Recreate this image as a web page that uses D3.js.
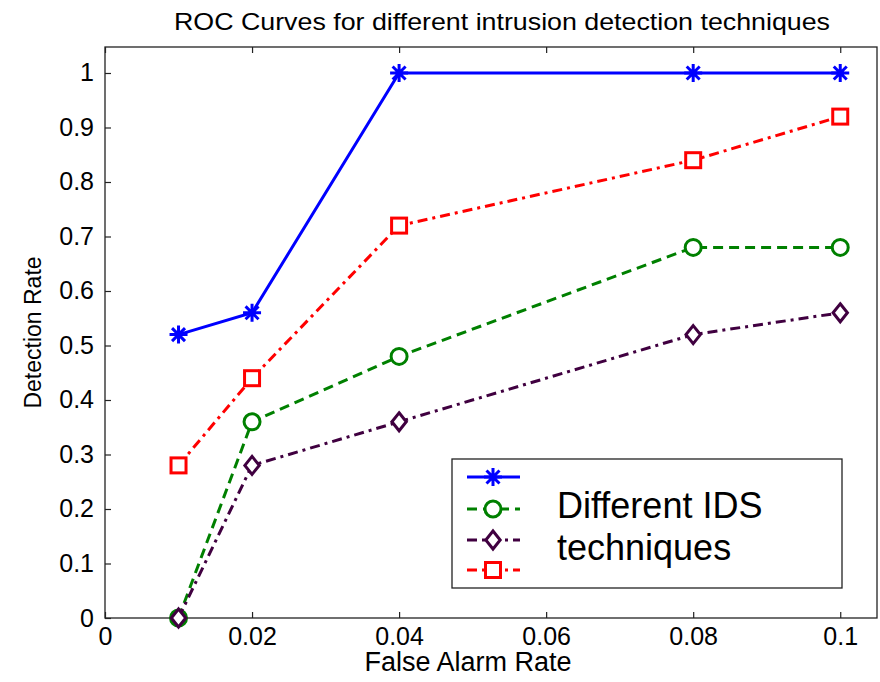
<!DOCTYPE html>
<html>
<head>
<meta charset="utf-8">
<script src="https://cdn.jsdelivr.net/npm/d3@7"></script>
<style>
  body { margin: 0; background: #fff; }
  text { font-family: "Liberation Sans", Arial, sans-serif; }
</style>
</head>
<body>
<script>
var w = 880;
var h = 682;

// data
var falseAlarm = [0.01, 0.02, 0.04, 0.08, 0.1];
var seriesA = [0.52, 0.56, 1, 1, 1];          // blue, asterisk
var seriesB = [0, 0.36, 0.48, 0.68, 0.68];    // green, circle
var seriesC = [0, 0.28, 0.36, 0.52, 0.56];    // purple, diamond
var seriesD = [0.28, 0.44, 0.72, 0.84, 0.92]; // red, square
var xTicks = [0, 0.02, 0.04, 0.06, 0.08, 0.1];
var yTicks = [0, 0.1, 0.2, 0.3, 0.4, 0.5, 0.6, 0.7, 0.8, 0.9, 1];
var legendLabel = ["Different IDS", "techniques"];

var series = [
  {values: seriesA, color: "#0000ff", dash: null, marker: "star"},
  {values: seriesB, color: "#008000", dash: "10,6", marker: "circle"},
  {values: seriesC, color: "#400040", dash: "10,5,3,5", marker: "diamond"},
  {values: seriesD, color: "#ff0000", dash: "10,5,3,5", marker: "square"}
];

var svg = d3.select("body")
  .append("svg")
  .attr("width", w)
  .attr("height", h);

var pLeft = 105, pRight = 877, pTop = 47, pBottom = 618;

var x = d3.scaleLinear().domain([0, 0.105]).range([pLeft, pRight]);
var y = d3.scaleLinear().domain([0, 1.0477]).range([pBottom, pTop]);

// box and axes
svg.append("rect")
  .attr("x", pLeft).attr("y", pTop)
  .attr("width", pRight - pLeft).attr("height", pBottom - pTop)
  .attr("fill", "none").attr("stroke", "#222").attr("stroke-width", 1.3);

svg.append("g")
  .attr("transform", "translate(0," + pBottom + ")")
  .call(d3.axisBottom(x).tickValues(xTicks).tickSize(-6).tickPadding(9)
    .tickFormat(function(d) { return d === 0 ? "0" : String(+d.toFixed(2)); }));

svg.append("g")
  .attr("transform", "translate(0," + pTop + ")")
  .call(d3.axisTop(x).tickValues(xTicks).tickSize(-6).tickFormat(""));

svg.append("g")
  .attr("transform", "translate(" + pLeft + ",0)")
  .call(d3.axisLeft(y).tickValues(yTicks).tickSize(-6).tickPadding(11)
    .tickFormat(function(d) { return String(+d.toFixed(1)); }));

svg.selectAll(".domain").remove();
svg.selectAll(".tick line").attr("stroke", "#222").attr("stroke-width", 1.2);
svg.selectAll(".tick text")
  .attr("fill", "#000")
  .style("font-family", "Liberation Sans, Arial, sans-serif")
  .style("font-size", "25px");

// labels
svg.append("text")
  .attr("x", 502).attr("y", 30)
  .attr("text-anchor", "middle")
  .attr("textLength", 656).attr("lengthAdjust", "spacingAndGlyphs")
  .style("font-size", "24px")
  .text("ROC Curves for different intrusion detection techniques");

svg.append("text")
  .attr("x", 468).attr("y", 671)
  .attr("text-anchor", "middle")
  .style("font-size", "27px")
  .text("False Alarm Rate");

svg.append("text")
  .attr("transform", "translate(41," + ((pTop + pBottom) / 2) + ") rotate(-90)")
  .attr("text-anchor", "middle")
  .style("font-size", "23px")
  .text("Detection Rate");

// markers
function drawMarker(g, type, color, cx, cy) {
  if (type === "star") {
    var r = 9, d = r * 0.72;
    g.append("path")
      .attr("d", "M" + (cx - r) + "," + cy + "H" + (cx + r) +
        "M" + cx + "," + (cy - r) + "V" + (cy + r) +
        "M" + (cx - d) + "," + (cy - d) + "L" + (cx + d) + "," + (cy + d) +
        "M" + (cx - d) + "," + (cy + d) + "L" + (cx + d) + "," + (cy - d))
      .attr("stroke", color).attr("stroke-width", 3).attr("fill", "none");
  } else if (type === "circle") {
    g.append("circle").attr("cx", cx).attr("cy", cy).attr("r", 8)
      .attr("fill", "#fff").attr("stroke", color).attr("stroke-width", 3);
  } else if (type === "diamond") {
    var s = 9;
    g.append("path")
      .attr("d", "M" + cx + "," + (cy - s) + "L" + (cx + s * 0.8) + "," + cy +
        "L" + cx + "," + (cy + s) + "L" + (cx - s * 0.8) + "," + cy + "Z")
      .attr("fill", "#fff").attr("stroke", color).attr("stroke-width", 3);
  } else if (type === "square") {
    g.append("rect").attr("x", cx - 7.5).attr("y", cy - 7.5)
      .attr("width", 15).attr("height", 15)
      .attr("fill", "#fff").attr("stroke", color).attr("stroke-width", 3);
  }
}

var line = d3.line()
  .x(function(d, i) { return x(falseAlarm[i]); })
  .y(function(d) { return y(d); });

// draw order so blue on top as in the picture
var drawOrder = [3, 1, 2, 0];
drawOrder.forEach(function(k) {
  var s = series[k];
  var g = svg.append("g");
  g.append("path")
    .datum(s.values)
    .attr("d", line)
    .attr("fill", "none")
    .attr("stroke", s.color)
    .attr("stroke-width", 3)
    .attr("stroke-dasharray", s.dash);
  s.values.forEach(function(v, i) {
    drawMarker(g, s.marker, s.color, x(falseAlarm[i]), y(v));
  });
});

// legend
var lg = svg.append("g");
lg.append("rect")
  .attr("x", 452).attr("y", 459).attr("width", 390).attr("height", 129)
  .attr("fill", "#fff").attr("stroke", "#222").attr("stroke-width", 1.3);

var rowY = [477, 509, 540, 570];
series.forEach(function(s, i) {
  lg.append("line")
    .attr("x1", 467).attr("x2", 520)
    .attr("y1", rowY[i]).attr("y2", rowY[i])
    .attr("stroke", s.color).attr("stroke-width", 3)
    .attr("stroke-dasharray", s.dash);
  drawMarker(lg, s.marker, s.color, 493, rowY[i]);
});

lg.selectAll("text.lab")
  .data(legendLabel)
  .enter()
  .append("text")
  .attr("class", "lab")
  .attr("x", 557)
  .attr("y", function(d, i) { return 518 + i * 42; })
  .style("font-size", "36px")
  .text(function(d) { return d; });
</script>
</body>
</html>
